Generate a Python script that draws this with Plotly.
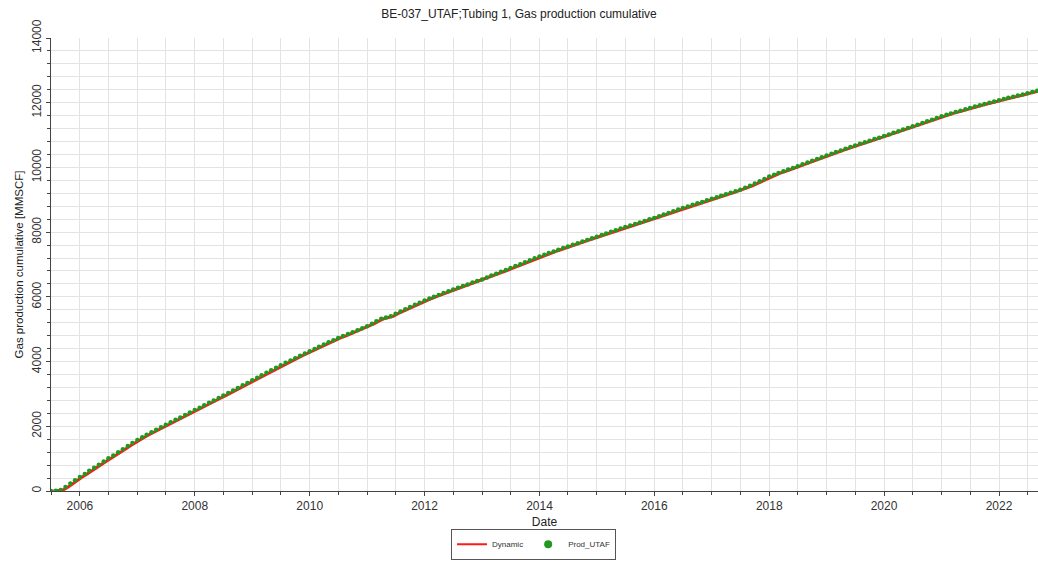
import pandas as pd
import plotly.graph_objects as go

# Monthly cumulative gas production [MMSCF], starting 2005-07
start_month = "2005-07-01"
prod_utaf = [
    0, 10, 30, 120, 230, 330,                       # 2005 Jul-Dec
    430, 525, 625, 720, 815, 910, 1010, 1100, 1195, 1290, 1390, 1485,      # 2006
    1580, 1660, 1740, 1815, 1895, 1970, 2050, 2125, 2200, 2275, 2350, 2425,  # 2007
    2500, 2575, 2650, 2725, 2800, 2875, 2950, 3030, 3105, 3185, 3265, 3340,  # 2008
    3420, 3500, 3575, 3655, 3735, 3810, 3890, 3960, 4035, 4105, 4180, 4250,  # 2009
    4320, 4390, 4455, 4525, 4595, 4660, 4730, 4790, 4850, 4910, 4970, 5030,  # 2010
    5090, 5170, 5250, 5320, 5360, 5400, 5480, 5550, 5620, 5685, 5755, 5820,  # 2011
    5890, 5950, 6005, 6060, 6120, 6175, 6230, 6280, 6335, 6385, 6440, 6490,  # 2012
    6540, 6600, 6660, 6715, 6775, 6830, 6890, 6950, 7010, 7070, 7130, 7190,  # 2013
    7250, 7300, 7355, 7405, 7455, 7510, 7560, 7610, 7660, 7710, 7760, 7810,  # 2014
    7860, 7910, 7960, 8010, 8060, 8110, 8160, 8205, 8255, 8300, 8345, 8395,  # 2015
    8440, 8490, 8545, 8595, 8645, 8700, 8750, 8795, 8845, 8890, 8935, 8985,  # 2016
    9030, 9075, 9125, 9170, 9215, 9265, 9310, 9370, 9430, 9500, 9570, 9645,  # 2017
    9720, 9775, 9830, 9880, 9935, 9985, 10040, 10095, 10150, 10205, 10260, 10315,  # 2018
    10370, 10420, 10475, 10525, 10580, 10630, 10680, 10730, 10775, 10825, 10875, 10920,  # 2019
    10970, 11020, 11070, 11120, 11170, 11220, 11270, 11320, 11375, 11425, 11475, 11530,  # 2020
    11580, 11625, 11670, 11710, 11755, 11800, 11840, 11880, 11920, 11960, 12000, 12040,  # 2021
    12080, 12115, 12150, 12185, 12220, 12255, 12290, 12330, 12370,  # 2022 Jan-Sep
]
dynamic_lag_days = 15

dates = pd.date_range(start_month, periods=len(prod_utaf), freq="MS")
dyn_dates = dates + pd.Timedelta(days=dynamic_lag_days)

FONT = "Liberation Sans, Arial, sans-serif"
RED = "#ff1a1a"
GREEN = "#1f9a1f"

fig = go.Figure()
fig.add_trace(go.Scatter(
    x=dyn_dates, y=prod_utaf, mode="lines", name="Dynamic", showlegend=False,
    line=dict(color=RED, width=3),
))
fig.add_trace(go.Scatter(
    x=dates, y=prod_utaf, mode="markers", name="Prod_UTAF", showlegend=False,
    marker=dict(color=GREEN, size=4.5, line=dict(width=0)),
))
# legend-only entries (no data) to get the legend symbol sizes of the reference
fig.add_trace(go.Scatter(x=[None], y=[None], mode="lines", name="Dynamic",
                         line=dict(color=RED, width=2)))
fig.add_trace(go.Scatter(x=[None], y=[None], mode="markers", name="Prod_UTAF",
                         marker=dict(color=GREEN, size=8, line=dict(width=0))))

fig.update_layout(
    width=1038, height=561,
    margin=dict(l=51, r=0, t=38, b=70, autoexpand=False),
    paper_bgcolor="white", plot_bgcolor="white",
    font=dict(family=FONT, size=12, color="#333333"),
    title=dict(text="BE-037_UTAF;Tubing 1, Gas production cumulative",
               x=0.5, xanchor="center", y=0.975, yanchor="middle",
               font=dict(size=12, color="#222222")),
    showlegend=True,
    legend=dict(orientation="h", xref="container", x=0.514, xanchor="center",
                yref="container", y=0.03, yanchor="middle",
                bordercolor="#555555", borderwidth=1, font=dict(size=8, color="#333333"),
                tracegroupgap=0),
)

fig.update_xaxes(
    title=dict(text="Date", font=dict(size=12, color="#222222"), standoff=6),
    range=["2005-07-01", "2022-09-06"],
    tickformat="%Y", dtick="M24", tick0="2006-01-01",
    showline=True, linecolor="#444444", linewidth=1,
    ticks="outside", ticklen=4, tickcolor="#444444",
    showgrid=True, gridcolor="#e3e3e3", gridwidth=1,
    minor=dict(dtick="M6", tick0="2006-01-01", showgrid=True, gridcolor="#e3e3e3",
               ticks="outside", ticklen=3, tickcolor="#444444"),
    zeroline=False, tickfont=dict(size=12, color="#333333"),
)
fig.update_yaxes(
    title=dict(text="Gas production cumulative [MMSCF]", font=dict(size=11.5, color="#222222"), standoff=4),
    range=[0, 14000], dtick=2000, tickangle=-90, tickformat="d",
    showline=True, linecolor="#444444", linewidth=1,
    ticks="outside", ticklen=4, tickcolor="#444444",
    showgrid=True, gridcolor="#e3e3e3", gridwidth=1,
    minor=dict(dtick=400, showgrid=True, gridcolor="#e3e3e3",
               ticks="outside", ticklen=3, tickcolor="#444444"),
    zeroline=False, tickfont=dict(size=12, color="#333333"),
)

fig.write_html("out.html", config={"displayModeBar": False},
               post_script="document.body.style.margin='0';document.body.style.overflow='hidden';")
